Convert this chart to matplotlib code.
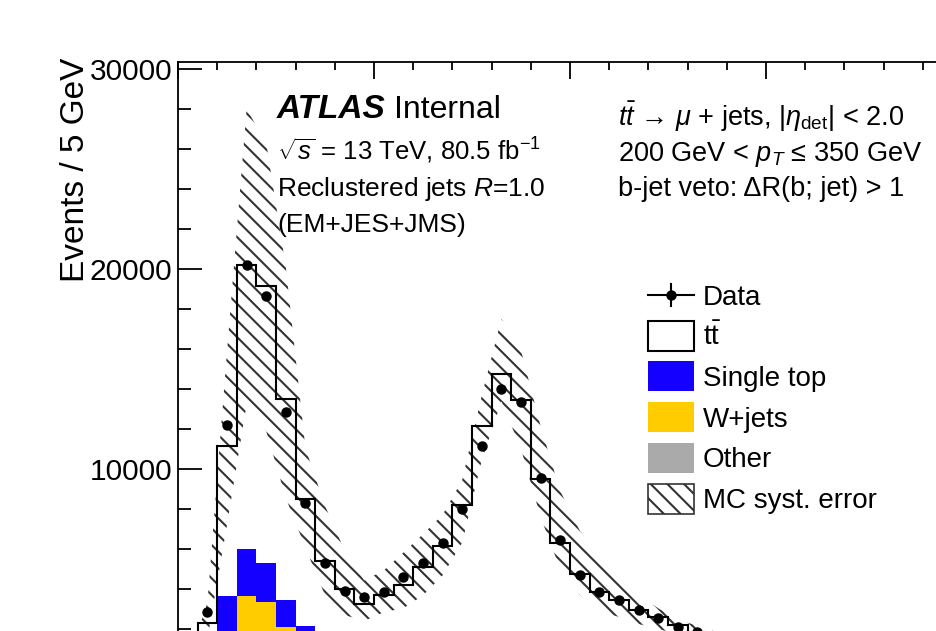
import numpy as np
import matplotlib
matplotlib.use("Agg")
import matplotlib.pyplot as plt
from matplotlib.patches import Rectangle
from matplotlib.lines import Line2D

plt.rcParams['font.family'] = ['Liberation Sans', 'DejaVu Sans']
plt.rcParams['mathtext.fontset'] = 'custom'
plt.rcParams['mathtext.rm'] = 'Liberation Sans'
plt.rcParams['mathtext.it'] = 'Liberation Sans:italic'
plt.rcParams['mathtext.bf'] = 'Liberation Sans:bold'
plt.rcParams['hatch.linewidth'] = 1.5

# jet mass bins, 5 GeV wide
bin_edges = np.arange(50, 205, 5)

# stacked MC (events / 5 GeV)
other = [50, 150, 300, 400, 400, 350, 300, 250, 200, 200, 200, 200, 200, 200, 250,
         250, 250, 250, 200, 200, 150, 150, 150, 120, 120, 100, 100, 80, 80, 80]
wjets = [100, 450, 1400, 3230, 2950, 1750, 1200, 850, 700, 600, 550, 500, 500, 450, 450,
         450, 400, 400, 350, 300, 300, 250, 250, 200, 200, 200, 150, 150, 150, 100]
single_top = [50, 200, 1930, 2370, 1940, 1370, 640, 500, 400, 350, 350, 350, 400, 450, 500,
              550, 550, 500, 450, 400, 350, 300, 300, 250, 250, 200, 200, 150, 150, 150]
ttbar = [100, 1490, 7510, 14180, 13850, 10030, 6350, 3820, 2710, 2120, 2580, 3130, 3990, 5070, 7010,
         10890, 13560, 12280, 8490, 5380, 3960, 3150, 2730, 2365, 2030, 1690, 1400, 1220, 1020, 870]

# MC systematic band (upper / lower edge at bin centres)
syst_up = [450, 3300, 15870, 28000, 26300, 20100, 11050, 8160, 5920, 4430, 4930, 5820, 6740, 7710, 9450,
           13680, 17510, 15920, 12140, 8900, 6915, 5620, 4480, 3730, 3035, 2490, 2150, 1850, 1600, 1400]
syst_dn = [150, 1500, 7200, 13230, 11890, 8560, 6070, 3680, 2700, 2400, 2840, 3035, 3680, 4680, 6320,
           10450, 13380, 11000, 7600, 5000, 3700, 2900, 2600, 2250, 2000, 1750, 1500, 1300, 1150, 1000]

data = [250, 2850, 12190, 20200, 18640, 12850, 8290, 5310, 3880, 3600, 3850, 4590, 5290, 6280, 8000,
        11140, 14010, 13350, 9570, 6470, 4680, 3850, 3430, 2970, 2570, 2100, 1850, 1550, 1350, 1150]

W, H = 936, 631
HATCH = '\\\\'


def fx(px):
    return px / W


def fy(py):
    return 1 - py / H


fig = plt.figure(figsize=(W / 100, H / 100), dpi=100)
ax = fig.add_axes([fx(178), fy(669), 784 / W, 607 / H])

centers = 0.5 * (bin_edges[:-1] + bin_edges[1:])
c1 = np.array(other)
c2 = c1 + np.array(wjets)
c3 = c2 + np.array(single_top)
c4 = c3 + np.array(ttbar)

ax.stairs(c1, bin_edges, baseline=0, fill=True, color='#aaaaaa', zorder=1)
ax.stairs(c2, bin_edges, baseline=c1, fill=True, color='#ffcc00', zorder=1)
ax.stairs(c3, bin_edges, baseline=c2, fill=True, color='#1400ff', zorder=1)
ax.stairs(c4, bin_edges, baseline=c3, fill=True, color='white', zorder=1)
ax.stairs(c4, bin_edges, baseline=None, color='black', lw=1.5, zorder=3)

ax.fill_between(centers, syst_dn, syst_up, facecolor='none', edgecolor='#333333',
                hatch=HATCH, linewidth=0, zorder=2)

ax.plot(centers, data, 'o', color='black', ms=6.5, zorder=5)

ax.set_xlim(50, 250)
ax.set_ylim(0, 30350)
ax.set_xticks(np.arange(50, 251, 50))
ax.set_xticks(np.arange(50, 251, 10), minor=True)
ax.set_yticks(np.arange(0, 30001, 10000))
ax.set_yticks(np.arange(0, 30001, 2000), minor=True)
ax.set_yticklabels(['', '10000', '20000', '30000'])
ax.tick_params(axis='both', which='both', direction='in', top=True, right=True, width=1.3)
ax.tick_params(axis='x', which='major', length=12)
ax.tick_params(axis='x', which='minor', length=6)
ax.tick_params(axis='y', which='major', length=17)
ax.tick_params(axis='y', which='minor', length=9)
ax.tick_params(axis='y', labelsize=21.5, pad=4.3)
ax.tick_params(axis='x', labelbottom=False)
for s in ax.spines.values():
    s.set_linewidth(1.3)

fig.text(fx(84), fy(58), 'Events / 5 GeV', fontsize=24, rotation=90,
         rotation_mode='anchor', ha='right', va='baseline')

# labels
fig.text(fx(277), fy(118), 'ATLAS', fontsize=24, fontweight='bold', style='italic', va='baseline')
fig.text(fx(394), fy(118), 'Internal', fontsize=23, va='baseline')
fig.text(fx(277), fy(160), r'$\sqrt{s}$ = 13 TeV, 80.5 fb$^{-1}$', fontsize=18.5, va='baseline')
fig.text(fx(277), fy(196), r'Reclustered jets $R$=1.0', fontsize=19, va='baseline')
fig.text(fx(277), fy(232), '(EM+JES+JMS)', fontsize=19, va='baseline')

fig.text(fx(618), fy(126), r'$t\bar{t}$ → $\mu$ + jets, |$\eta_{\mathrm{det}}$| < 2.0',
         fontsize=19.5, va='baseline')
fig.text(fx(618), fy(161), r'200 GeV < $p_{T}$ ≤ 350 GeV', fontsize=19.5, va='baseline')
fig.text(fx(618), fy(196), r'b-jet veto: ΔR(b; jet) > 1', fontsize=19.5, va='baseline')

# legend
leg_labels = ['Data', r'$\mathrm{t\bar{t}}$', 'Single top', 'W+jets', 'Other', 'MC syst. error']
bx0, bw, bh = 648, 46, 30
for i, lab in enumerate(leg_labels):
    yc = 295 + 40.7 * i
    if i == 0:
        fig.add_artist(Line2D([fx(bx0), fx(bx0 + bw)], [fy(yc), fy(yc)], color='black', lw=1.5,
                              transform=fig.transFigure))
        fig.add_artist(Line2D([fx(bx0 + bw / 2)] * 2, [fy(yc - 11), fy(yc + 11)], color='black',
                              lw=1.5, transform=fig.transFigure))
        fig.add_artist(Line2D([fx(bx0 + bw / 2)], [fy(yc)], marker='o', color='black', ms=6.5,
                              transform=fig.transFigure))
    else:
        if i == 1:
            kw = dict(facecolor='white', edgecolor='black', lw=1.5)
        elif i == 2:
            kw = dict(facecolor='#1400ff', edgecolor='none')
        elif i == 3:
            kw = dict(facecolor='#ffcc00', edgecolor='none')
        elif i == 4:
            kw = dict(facecolor='#aaaaaa', edgecolor='none')
        else:
            kw = dict(facecolor='white', edgecolor='#333333', lw=1.2, hatch=HATCH)
        fig.add_artist(Rectangle((fx(bx0), fy(yc + bh / 2)), bw / W, bh / H,
                                 transform=fig.transFigure, **kw))
    fig.text(fx(703), fy(yc + 9.5), lab, fontsize=20, va='baseline')

fig.savefig('out.png', dpi=100)
